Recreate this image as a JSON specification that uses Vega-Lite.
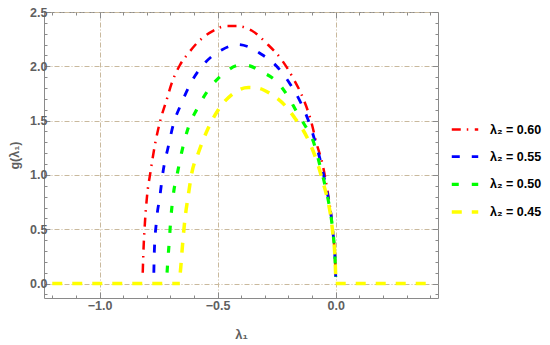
{
  "$schema": "https://vega.github.io/schema/vega-lite/v6.json",
  "width": 394,
  "height": 286,
  "autosize": {"type": "none"},
  "padding": {"left": 44, "top": 12, "right": 112, "bottom": 47},
  "background": "white",
  "config": {
    "view": {"stroke": "#8a8a8a", "strokeWidth": 1},
    "font": "Liberation Sans"
  },
  "data": {
    "values": [
      {"s": "λ₂ = 0.60", "g": "c", "x": -0.817, "y": 0.10},
      {"s": "λ₂ = 0.60", "g": "c", "x": -0.814, "y": 0.30},
      {"s": "λ₂ = 0.60", "g": "c", "x": -0.808, "y": 0.55},
      {"s": "λ₂ = 0.60", "g": "c", "x": -0.799, "y": 0.80},
      {"s": "λ₂ = 0.60", "g": "c", "x": -0.784, "y": 1.03},
      {"s": "λ₂ = 0.60", "g": "c", "x": -0.766, "y": 1.27},
      {"s": "λ₂ = 0.60", "g": "c", "x": -0.744, "y": 1.49},
      {"s": "λ₂ = 0.60", "g": "c", "x": -0.716, "y": 1.69},
      {"s": "λ₂ = 0.60", "g": "c", "x": -0.695, "y": 1.84},
      {"s": "λ₂ = 0.60", "g": "c", "x": -0.660, "y": 2.01},
      {"s": "λ₂ = 0.60", "g": "c", "x": -0.620, "y": 2.13},
      {"s": "λ₂ = 0.60", "g": "c", "x": -0.589, "y": 2.21},
      {"s": "λ₂ = 0.60", "g": "c", "x": -0.525, "y": 2.32},
      {"s": "λ₂ = 0.60", "g": "c", "x": -0.462, "y": 2.37},
      {"s": "λ₂ = 0.60", "g": "c", "x": -0.419, "y": 2.37},
      {"s": "λ₂ = 0.60", "g": "c", "x": -0.356, "y": 2.33},
      {"s": "λ₂ = 0.60", "g": "c", "x": -0.292, "y": 2.21},
      {"s": "λ₂ = 0.60", "g": "c", "x": -0.229, "y": 2.06},
      {"s": "λ₂ = 0.60", "g": "c", "x": -0.180, "y": 1.89},
      {"s": "λ₂ = 0.60", "g": "c", "x": -0.137, "y": 1.70},
      {"s": "λ₂ = 0.60", "g": "c", "x": -0.105, "y": 1.50},
      {"s": "λ₂ = 0.60", "g": "c", "x": -0.081, "y": 1.29},
      {"s": "λ₂ = 0.60", "g": "c", "x": -0.055, "y": 1.09},
      {"s": "λ₂ = 0.60", "g": "c", "x": -0.040, "y": 0.92},
      {"s": "λ₂ = 0.60", "g": "c", "x": -0.028, "y": 0.76},
      {"s": "λ₂ = 0.60", "g": "c", "x": -0.019, "y": 0.62},
      {"s": "λ₂ = 0.60", "g": "c", "x": -0.011, "y": 0.46},
      {"s": "λ₂ = 0.60", "g": "c", "x": -0.005, "y": 0.31},
      {"s": "λ₂ = 0.60", "g": "c", "x": -0.002, "y": 0.18},
      {"s": "λ₂ = 0.60", "g": "c", "x": 0.0, "y": 0.06},

      {"s": "λ₂ = 0.55", "g": "c", "x": -0.770, "y": 0.10},
      {"s": "λ₂ = 0.55", "g": "c", "x": -0.768, "y": 0.29},
      {"s": "λ₂ = 0.55", "g": "c", "x": -0.760, "y": 0.55},
      {"s": "λ₂ = 0.55", "g": "c", "x": -0.744, "y": 0.81},
      {"s": "λ₂ = 0.55", "g": "c", "x": -0.731, "y": 1.03},
      {"s": "λ₂ = 0.55", "g": "c", "x": -0.709, "y": 1.26},
      {"s": "λ₂ = 0.55", "g": "c", "x": -0.688, "y": 1.46},
      {"s": "λ₂ = 0.55", "g": "c", "x": -0.653, "y": 1.66},
      {"s": "λ₂ = 0.55", "g": "c", "x": -0.610, "y": 1.86},
      {"s": "λ₂ = 0.55", "g": "c", "x": -0.554, "y": 2.03},
      {"s": "λ₂ = 0.55", "g": "c", "x": -0.483, "y": 2.15},
      {"s": "λ₂ = 0.55", "g": "c", "x": -0.413, "y": 2.20},
      {"s": "λ₂ = 0.55", "g": "c", "x": -0.370, "y": 2.18},
      {"s": "λ₂ = 0.55", "g": "c", "x": -0.321, "y": 2.12},
      {"s": "λ₂ = 0.55", "g": "c", "x": -0.250, "y": 2.00},
      {"s": "λ₂ = 0.55", "g": "c", "x": -0.194, "y": 1.84},
      {"s": "λ₂ = 0.55", "g": "c", "x": -0.147, "y": 1.66},
      {"s": "λ₂ = 0.55", "g": "c", "x": -0.109, "y": 1.46},
      {"s": "λ₂ = 0.55", "g": "c", "x": -0.081, "y": 1.26},
      {"s": "λ₂ = 0.55", "g": "c", "x": -0.058, "y": 1.07},
      {"s": "λ₂ = 0.55", "g": "c", "x": -0.043, "y": 0.91},
      {"s": "λ₂ = 0.55", "g": "c", "x": -0.029, "y": 0.76},
      {"s": "λ₂ = 0.55", "g": "c", "x": -0.019, "y": 0.62},
      {"s": "λ₂ = 0.55", "g": "c", "x": -0.011, "y": 0.46},
      {"s": "λ₂ = 0.55", "g": "c", "x": -0.005, "y": 0.31},
      {"s": "λ₂ = 0.55", "g": "c", "x": -0.002, "y": 0.18},
      {"s": "λ₂ = 0.55", "g": "c", "x": 0.0, "y": 0.06},

      {"s": "λ₂ = 0.50", "g": "c", "x": -0.714, "y": 0.10},
      {"s": "λ₂ = 0.50", "g": "c", "x": -0.712, "y": 0.17},
      {"s": "λ₂ = 0.50", "g": "c", "x": -0.705, "y": 0.38},
      {"s": "λ₂ = 0.50", "g": "c", "x": -0.698, "y": 0.60},
      {"s": "λ₂ = 0.50", "g": "c", "x": -0.688, "y": 0.81},
      {"s": "λ₂ = 0.50", "g": "c", "x": -0.669, "y": 1.03},
      {"s": "λ₂ = 0.50", "g": "c", "x": -0.653, "y": 1.20},
      {"s": "λ₂ = 0.50", "g": "c", "x": -0.625, "y": 1.43},
      {"s": "λ₂ = 0.50", "g": "c", "x": -0.589, "y": 1.60},
      {"s": "λ₂ = 0.50", "g": "c", "x": -0.540, "y": 1.78},
      {"s": "λ₂ = 0.50", "g": "c", "x": -0.476, "y": 1.93},
      {"s": "λ₂ = 0.50", "g": "c", "x": -0.406, "y": 2.01},
      {"s": "λ₂ = 0.50", "g": "c", "x": -0.380, "y": 2.01},
      {"s": "λ₂ = 0.50", "g": "c", "x": -0.314, "y": 1.95},
      {"s": "λ₂ = 0.50", "g": "c", "x": -0.250, "y": 1.86},
      {"s": "λ₂ = 0.50", "g": "c", "x": -0.201, "y": 1.72},
      {"s": "λ₂ = 0.50", "g": "c", "x": -0.165, "y": 1.58},
      {"s": "λ₂ = 0.50", "g": "c", "x": -0.137, "y": 1.48},
      {"s": "λ₂ = 0.50", "g": "c", "x": -0.095, "y": 1.31},
      {"s": "λ₂ = 0.50", "g": "c", "x": -0.066, "y": 1.08},
      {"s": "λ₂ = 0.50", "g": "c", "x": -0.047, "y": 0.92},
      {"s": "λ₂ = 0.50", "g": "c", "x": -0.031, "y": 0.76},
      {"s": "λ₂ = 0.50", "g": "c", "x": -0.020, "y": 0.62},
      {"s": "λ₂ = 0.50", "g": "c", "x": -0.011, "y": 0.46},
      {"s": "λ₂ = 0.50", "g": "c", "x": -0.005, "y": 0.31},
      {"s": "λ₂ = 0.50", "g": "c", "x": -0.002, "y": 0.18},
      {"s": "λ₂ = 0.50", "g": "c", "x": 0.0, "y": 0.06},

      {"s": "λ₂ = 0.45", "g": "c", "x": -0.658, "y": 0.10},
      {"s": "λ₂ = 0.45", "g": "c", "x": -0.656, "y": 0.15},
      {"s": "λ₂ = 0.45", "g": "c", "x": -0.648, "y": 0.37},
      {"s": "λ₂ = 0.45", "g": "c", "x": -0.639, "y": 0.58},
      {"s": "λ₂ = 0.45", "g": "c", "x": -0.625, "y": 0.80},
      {"s": "λ₂ = 0.45", "g": "c", "x": -0.610, "y": 1.01},
      {"s": "λ₂ = 0.45", "g": "c", "x": -0.582, "y": 1.20},
      {"s": "λ₂ = 0.45", "g": "c", "x": -0.540, "y": 1.43},
      {"s": "λ₂ = 0.45", "g": "c", "x": -0.497, "y": 1.60},
      {"s": "λ₂ = 0.45", "g": "c", "x": -0.434, "y": 1.75},
      {"s": "λ₂ = 0.45", "g": "c", "x": -0.370, "y": 1.805},
      {"s": "λ₂ = 0.45", "g": "c", "x": -0.330, "y": 1.80},
      {"s": "λ₂ = 0.45", "g": "c", "x": -0.278, "y": 1.75},
      {"s": "λ₂ = 0.45", "g": "c", "x": -0.215, "y": 1.64},
      {"s": "λ₂ = 0.45", "g": "c", "x": -0.172, "y": 1.52},
      {"s": "λ₂ = 0.45", "g": "c", "x": -0.140, "y": 1.42},
      {"s": "λ₂ = 0.45", "g": "c", "x": -0.109, "y": 1.29},
      {"s": "λ₂ = 0.45", "g": "c", "x": -0.076, "y": 1.10},
      {"s": "λ₂ = 0.45", "g": "c", "x": -0.052, "y": 0.92},
      {"s": "λ₂ = 0.45", "g": "c", "x": -0.033, "y": 0.76},
      {"s": "λ₂ = 0.45", "g": "c", "x": -0.021, "y": 0.62},
      {"s": "λ₂ = 0.45", "g": "c", "x": -0.012, "y": 0.46},
      {"s": "λ₂ = 0.45", "g": "c", "x": -0.005, "y": 0.31},
      {"s": "λ₂ = 0.45", "g": "c", "x": -0.002, "y": 0.18},
      {"s": "λ₂ = 0.45", "g": "c", "x": 0.0, "y": 0.06},
      {"s": "λ₂ = 0.45", "g": "z1", "x": -1.2, "y": 0.0},
      {"s": "λ₂ = 0.45", "g": "z1", "x": -0.66, "y": 0.0},
      {"s": "λ₂ = 0.45", "g": "z2", "x": 0.0, "y": 0.0},
      {"s": "λ₂ = 0.45", "g": "z2", "x": 0.4, "y": 0.0}
    ]
  },
  "resolve": {"axis": {"x": "independent", "y": "independent"}},
  "layer": [
    {
      "encoding": {
        "x": {
          "field": "x", "type": "quantitative",
          "scale": {"domain": [-1.235, 0.433], "nice": false, "zero": false},
          "axis": {
            "values": [-1.2, -1.1, -1.0, -0.9, -0.8, -0.7, -0.6, -0.5, -0.4, -0.3, -0.2, -0.1, 0, 0.1, 0.2, 0.3, 0.4],
            "labelExpr": "abs(datum.value*2 - round(datum.value*2)) < 0.001 ? format(datum.value, '.1f') : ''",
            "labelOverlap": false, "labelFlush": false,
            "grid": true, "gridColor": "#c9b99d", "gridDash": [5, 2, 1, 2], "gridWidth": 1,
            "gridOpacity": {"condition": {"test": "abs(datum.value*2 - round(datum.value*2)) < 0.001", "value": 1}, "value": 0},
            "domain": false, "tickColor": "#8a8a8a",
            "tickSize": {"condition": {"test": "abs(datum.value*2 - round(datum.value*2)) < 0.001", "value": -6}, "value": -3},
            "labelFont": "Liberation Sans", "labelFontSize": 12.5, "labelFontWeight": "bold", "labelColor": "#5f5f5f",
            "labelPadding": 7,
            "title": "λ₁", "titleFont": "Liberation Sans", "titleFontSize": 13, "titleFontWeight": "bold", "titleColor": "#5f5f5f",
            "titlePadding": 14
          }
        },
        "y": {
          "field": "y", "type": "quantitative",
          "scale": {"domain": [-0.133, 2.5], "nice": false, "zero": false},
          "axis": {
            "values": [-0.1, 0, 0.1, 0.2, 0.3, 0.4, 0.5, 0.6, 0.7, 0.8, 0.9, 1.0, 1.1, 1.2, 1.3, 1.4, 1.5, 1.6, 1.7, 1.8, 1.9, 2.0, 2.1, 2.2, 2.3, 2.4, 2.5],
            "labelExpr": "abs(datum.value*2 - round(datum.value*2)) < 0.001 ? format(datum.value, '.1f') : ''",
            "labelOverlap": false, "labelFlush": false,
            "grid": true, "gridColor": "#c9b99d", "gridDash": [5, 2, 1, 2], "gridWidth": 1,
            "gridOpacity": {"condition": {"test": "abs(datum.value*2 - round(datum.value*2)) < 0.001", "value": 1}, "value": 0},
            "domain": false, "tickColor": "#8a8a8a",
            "tickSize": {"condition": {"test": "abs(datum.value*2 - round(datum.value*2)) < 0.001", "value": -6}, "value": -3},
            "labelFont": "Liberation Sans", "labelFontSize": 12.5, "labelFontWeight": "bold", "labelColor": "#5f5f5f",
            "labelPadding": 3,
            "title": "g(λ₁)", "titleFont": "Liberation Sans", "titleFontSize": 12.5, "titleFontWeight": "bold", "titleColor": "#5f5f5f",
            "titlePadding": 8
          }
        },
        "color": {
          "field": "s", "type": "ordinal",
          "scale": {"domain": ["λ₂ = 0.60", "λ₂ = 0.55", "λ₂ = 0.50", "λ₂ = 0.45"], "range": ["#ff0000", "#0000ff", "#00ff00", "#ffff00"]},
          "legend": {
            "title": null, "orient": "none", "legendX": 406, "legendY": 103,
            "symbolType": "stroke", "symbolSize": 700, "padding": 0,
            "labelFont": "Liberation Sans", "labelFontSize": 12.5, "labelFontWeight": "bold", "labelColor": "#000000",
            "labelOffset": 10, "rowPadding": 5.7
          }
        },
        "strokeDash": {
          "field": "s", "type": "ordinal",
          "scale": {"domain": ["λ₂ = 0.60", "λ₂ = 0.55", "λ₂ = 0.50", "λ₂ = 0.45"], "range": [[9, 6, 1.5, 6.5], [8, 12], [7, 13], [10, 10]]}
        },
        "strokeWidth": {
          "field": "s", "type": "ordinal",
          "scale": {"domain": ["λ₂ = 0.60", "λ₂ = 0.55", "λ₂ = 0.50", "λ₂ = 0.45"], "range": [2.5, 3.5, 2.5, 3.5]}
        },
        "detail": {"field": "g"}
      },
      "layer": [
        {"transform": [{"filter": "datum.s == 'λ₂ = 0.60'"}], "mark": {"type": "line", "interpolate": "monotone"}},
        {"transform": [{"filter": "datum.s == 'λ₂ = 0.55'"}], "mark": {"type": "line", "interpolate": "monotone"}},
        {"transform": [{"filter": "datum.s == 'λ₂ = 0.50'"}], "mark": {"type": "line", "interpolate": "monotone"}},
        {"transform": [{"filter": "datum.s == 'λ₂ = 0.45'"}], "mark": {"type": "line", "interpolate": "monotone"}}
      ]
    },
    {
      "mark": {"type": "point", "opacity": 0},
      "encoding": {
        "x": {
          "field": "x", "type": "quantitative",
          "scale": {"domain": [-1.235, 0.433], "nice": false, "zero": false},
          "axis": {
            "orient": "top",
            "values": [-1.2, -1.1, -1.0, -0.9, -0.8, -0.7, -0.6, -0.5, -0.4, -0.3, -0.2, -0.1, 0, 0.1, 0.2, 0.3, 0.4],
            "labels": false, "grid": false, "domain": false, "title": null, "tickColor": "#8a8a8a",
            "tickSize": {"condition": {"test": "abs(datum.value*2 - round(datum.value*2)) < 0.001", "value": -6}, "value": -3}
          }
        },
        "y": {
          "field": "y", "type": "quantitative",
          "scale": {"domain": [-0.133, 2.5], "nice": false, "zero": false},
          "axis": {
            "orient": "right",
            "values": [-0.1, 0, 0.1, 0.2, 0.3, 0.4, 0.5, 0.6, 0.7, 0.8, 0.9, 1.0, 1.1, 1.2, 1.3, 1.4, 1.5, 1.6, 1.7, 1.8, 1.9, 2.0, 2.1, 2.2, 2.3, 2.4, 2.5],
            "labels": false, "grid": false, "domain": false, "title": null, "tickColor": "#8a8a8a",
            "tickSize": {"condition": {"test": "abs(datum.value*2 - round(datum.value*2)) < 0.001", "value": -6}, "value": -3}
          }
        }
      }
    }
  ]
}
